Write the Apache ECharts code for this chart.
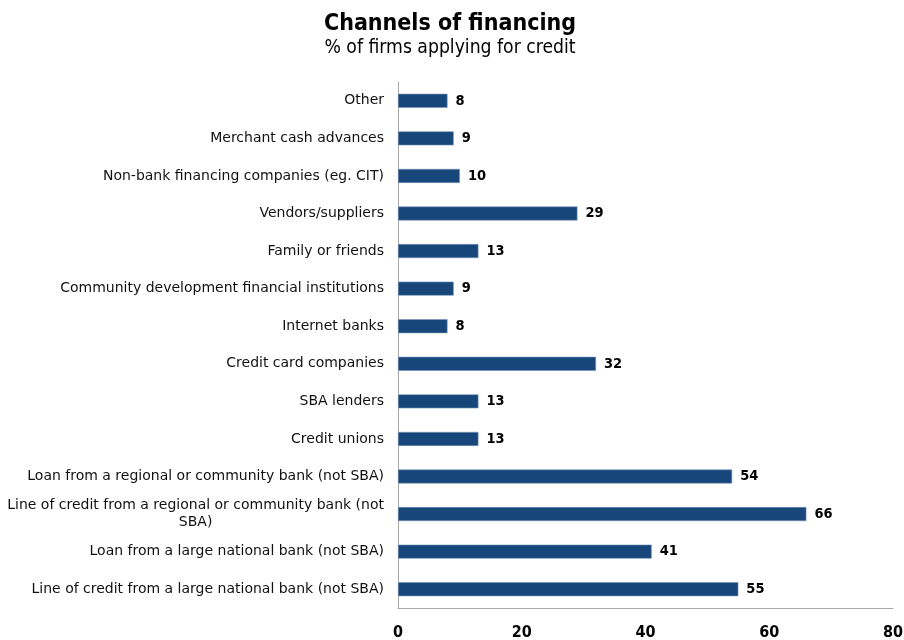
<!DOCTYPE html>
<html>
<head>
<meta charset="utf-8">
<script src="https://cdn.jsdelivr.net/npm/echarts@6/dist/echarts.min.js"></script>
<style>
  html, body { margin: 0; padding: 0; background: #fff; }
  #chart { width: 904px; height: 640px; }
</style>
</head>
<body>
<div id="chart"></div>
<script>
// Financing channels, listed bottom to top as drawn on the category axis
const categories = [
  'Line of credit from a large national bank (not SBA)',
  'Loan from a large national bank (not SBA)',
  'Line of credit from a regional or community bank (not\nSBA)',
  'Loan from a regional or community bank (not SBA)',
  'Credit unions',
  'SBA lenders',
  'Credit card companies',
  'Internet banks',
  'Community development financial institutions',
  'Family or friends',
  'Vendors/suppliers',
  'Non-bank financing companies (eg. CIT)',
  'Merchant cash advances',
  'Other'
];
const shares = [55, 41, 66, 54, 13, 13, 32, 8, 9, 13, 29, 10, 9, 8];
const xTicks = [0, 20, 40, 60, 80];

const FONT = 'DejaVu Sans Condensed, DejaVu Sans, sans-serif';
const LABEL_FONT = 'DejaVu Sans, sans-serif';
const chart = echarts.init(document.getElementById('chart'));
chart.setOption({
  backgroundColor: '#ffffff',
  animation: false,
  title: {
    text: 'Channels of financing',
    subtext: '% of firms applying for credit',
    left: 445,
    textAlign: 'center',
    top: 8,
    itemGap: 3,
    textStyle: { fontFamily: FONT, fontSize: 23, fontWeight: 'bold', color: '#000' },
    subtextStyle: { fontFamily: FONT, fontSize: 19.2, color: '#000' }
  },
  grid: {
    left: 398, right: 11, top: 82, bottom: 32,
    containLabel: false,
    outerBoundsMode: 'none'
  },
  xAxis: {
    type: 'value',
    min: xTicks[0],
    max: xTicks[xTicks.length - 1],
    interval: 20,
    axisLine: { show: true, lineStyle: { color: '#a8a8a8', width: 1 } },
    axisTick: { show: false },
    splitLine: { show: false },
    axisLabel: {
      margin: 17,
      fontFamily: FONT,
      fontSize: 16,
      fontWeight: 'bold',
      color: '#000'
    }
  },
  yAxis: {
    type: 'category',
    data: categories,
    axisLine: { show: true, lineStyle: { color: '#a8a8a8', width: 1 } },
    axisTick: { show: false },
    axisLabel: {
      margin: 14,
      color: '#111',
      align: 'right',
      // wrapped labels keep their continuation line centred under the first line
      formatter: function (v) {
        return v.split('\n').map(function (line) { return '{c|' + line + '}'; }).join('\n');
      },
      rich: {
        c: {
          fontFamily: LABEL_FONT,
          fontSize: 14,
          color: '#111',
          align: 'center',
          lineHeight: 17
        }
      }
    }
  },
  series: [{
    type: 'bar',
    data: shares,
    barWidth: 14,
    itemStyle: { color: '#17477a', borderColor: '#7593b8', borderWidth: 0.6 },
    label: {
      show: true,
      position: 'right',
      distance: 8,
      fontFamily: FONT,
      fontSize: 14.5,
      fontWeight: 'bold',
      color: '#000'
    }
  }]
});
</script>
</body>
</html>
